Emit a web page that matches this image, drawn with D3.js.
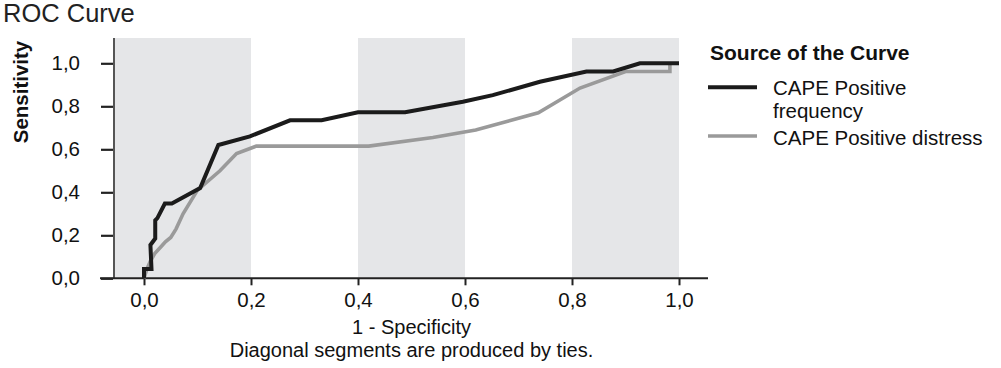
<!DOCTYPE html>
<html>
<head>
<meta charset="utf-8">
<script src="https://cdn.jsdelivr.net/npm/d3@7"></script>
<style>
  html, body { margin: 0; padding: 0; background: #fff; }
  svg { display: block; font-family: "Liberation Sans", Arial, sans-serif; }
</style>
</head>
<body>
<svg id="chart" width="1001" height="368"></svg>
<script>
// ---- data ----
const xTicks = [0, 0.2, 0.4, 0.6, 0.8, 1.0];
const yTicks = [0, 0.2, 0.4, 0.6, 0.8, 1.0];
const seriesNames = ["CAPE Positive frequency", "CAPE Positive distress"];
const freqFpr  = [0, 0, 0.014, 0.012, 0.021, 0.021, 0.025, 0.039, 0.052, 0.105, 0.139, 0.198, 0.273, 0.332, 0.400, 0.488, 0.596, 0.652, 0.740, 0.827, 0.877, 0.927, 1.0];
const freqTpr  = [0, 0.043, 0.043, 0.155, 0.185, 0.270, 0.280, 0.348, 0.348, 0.420, 0.620, 0.660, 0.735, 0.735, 0.772, 0.772, 0.821, 0.852, 0.914, 0.962, 0.962, 1.0, 1.0];
const distFpr  = [0, 0.005, 0.012, 0.020, 0.033, 0.040, 0.050, 0.060, 0.073, 0.100, 0.142, 0.173, 0.210, 0.420, 0.540, 0.620, 0.737, 0.815, 0.900, 0.983, 0.983];
const distTpr  = [0, 0.040, 0.080, 0.115, 0.150, 0.170, 0.190, 0.230, 0.300, 0.410, 0.500, 0.580, 0.615, 0.615, 0.655, 0.690, 0.770, 0.885, 0.962, 0.962, 1.0];
const bandStarts = [-0.056, 0.4, 0.8];
const bandEnds   = [0.2, 0.6, 1.0];

// ---- layout ----
const svg = d3.select("#chart");
const x = d3.scaleLinear().domain([0, 1]).range([144, 679]);
const y = d3.scaleLinear().domain([0, 1]).range([278.3, 63.3]);
const xMin = x.invert(114), xMax = x.invert(708);
const yMax = y.invert(38);
const fmt = (d) => d3.format(".1f")(d).replace(".", ",");

// bands
svg.append("g").selectAll("rect").data(bandStarts).join("rect")
  .attr("x", (d) => x(Math.max(d, xMin)))
  .attr("width", (d, i) => x(bandEnds[i]) - x(Math.max(d, xMin)))
  .attr("y", y(yMax))
  .attr("height", y(0) - y(yMax))
  .attr("fill", "#e5e6e8");

// y axis
const yAxis = d3.axisLeft(y).tickValues(yTicks).tickSize(12).tickPadding(21).tickFormat(fmt);
const gy = svg.append("g").attr("transform", "translate(113,0)").call(yAxis);
gy.select(".domain").remove();
gy.selectAll(".tick line").attr("stroke", "#222").attr("stroke-width", 2.2);
gy.selectAll(".tick text")
  .attr("font-size", 20.5).attr("fill", "#111")
  .attr("font-family", "Liberation Sans, Arial, sans-serif");
svg.append("line").attr("x1", 114).attr("x2", 114)
  .attr("y1", y(yMax)).attr("y2", y(0))
  .attr("stroke", "#555").attr("stroke-width", 2);

// x axis
const xAxis = d3.axisBottom(x).tickValues(xTicks).tickSize(7).tickPadding(7).tickFormat(fmt);
const gx = svg.append("g").attr("transform", `translate(0,${y(0)})`).call(xAxis);
gx.select(".domain").remove();
gx.selectAll(".tick line").attr("stroke", "#222").attr("stroke-width", 2);
gx.selectAll(".tick text")
  .attr("font-size", 20.5).attr("fill", "#111")
  .attr("font-family", "Liberation Sans, Arial, sans-serif");
svg.append("line").attr("x1", 100).attr("x2", x(xMax))
  .attr("y1", y(0)).attr("y2", y(0))
  .attr("stroke", "#222").attr("stroke-width", 2);

// lines
const line = d3.line().x((d) => x(d[0])).y((d) => y(d[1]));
const freq = freqFpr.map((v, i) => [v, freqTpr[i]]);
const dist = distFpr.map((v, i) => [v, distTpr[i]]);
svg.append("path").datum(dist).attr("d", line)
  .attr("fill", "none").attr("stroke", "#9a9a9a").attr("stroke-width", 3.6)
  .attr("stroke-linejoin", "miter");
svg.append("path").datum(freq).attr("d", line)
  .attr("fill", "none").attr("stroke", "#1b1b1b").attr("stroke-width", 4)
  .attr("stroke-linejoin", "miter");

// titles
svg.append("text").attr("x", 3).attr("y", 22).attr("font-size", 25.5)
  .attr("fill", "#222").text("ROC Curve");
svg.append("text").attr("transform", "translate(28,92) rotate(-90)")
  .attr("text-anchor", "middle").attr("font-size", 20.5).attr("font-weight", "bold")
  .attr("fill", "#111").text("Sensitivity");
svg.append("text").attr("x", x(0.5)).attr("y", 334).attr("text-anchor", "middle")
  .attr("font-size", 20).attr("fill", "#111").text("1 - Specificity");
svg.append("text").attr("x", x(0.5)).attr("y", 357).attr("text-anchor", "middle")
  .attr("font-size", 20).attr("fill", "#111").text("Diagonal segments are produced by ties.");

// legend
const lg = svg.append("g");
lg.append("text").attr("x", 710).attr("y", 59.5).attr("font-size", 21)
  .attr("font-weight", "bold").attr("fill", "#111").text("Source of the Curve");
const swatchY = [87.3, 136];
const swatchColors = ["#1b1b1b", "#9a9a9a"];
const swatchW = [4, 3.6];
lg.selectAll("line.sw").data(seriesNames).join("line").attr("class", "sw")
  .attr("x1", 708).attr("x2", 757)
  .attr("y1", (d, i) => swatchY[i]).attr("y2", (d, i) => swatchY[i])
  .attr("stroke", (d, i) => swatchColors[i]).attr("stroke-width", (d, i) => swatchW[i]);
const t1 = lg.append("text").attr("x", 773).attr("font-size", 20.5).attr("fill", "#111");
t1.append("tspan").attr("x", 773).attr("y", 94.8).text("CAPE Positive");
t1.append("tspan").attr("x", 773).attr("y", 117.8).text("frequency");
lg.append("text").attr("x", 773).attr("y", 145).attr("font-size", 20.5)
  .attr("fill", "#111").text(seriesNames[1]);
</script>
</body>
</html>
